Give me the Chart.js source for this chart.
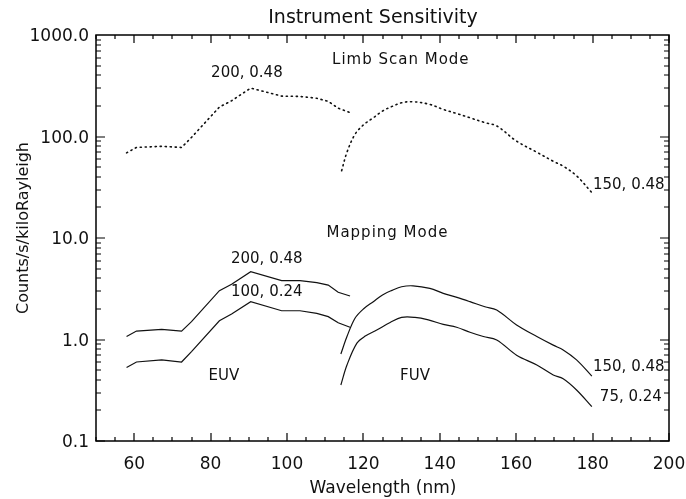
<!DOCTYPE html>
<html>
<head>
<meta charset="utf-8">
<script src="https://cdn.jsdelivr.net/npm/chart.js@4.4.0/dist/chart.umd.min.js"></script>
<style>
  html, body { margin: 0; padding: 0; background: #fff; }
  #wrap { width: 686px; height: 499px; }
</style>
</head>
<body>
<div id="wrap"><canvas id="chart" width="686" height="499"></canvas></div>
<script>
const FONT = "'DejaVu Sans', sans-serif";
const INK = "#111";

// axis ticks
const xTickVals = [60, 80, 100, 120, 140, 160, 180, 200];
const yTickVals = [0.1, 1, 10, 100, 1000];
const yTickLabels = ["0.1", "1.0", "10.0", "100.0", "1000.0"];

// Limb scan mode (dotted)
const limbEuvX = [58, 60.6, 67.2, 72.4, 75, 82.3, 85.5, 90.5, 98.6, 103.4, 107.8, 110.8, 113.4, 116.5];
const limbEuvY = [69, 78, 80, 78, 98, 195, 225, 300, 250, 248, 238, 222, 190, 172];
const limbFuvX = [114.3, 115.7, 117.8, 120, 122.6, 125, 127.5, 130, 133, 137.4, 140.9, 144.5, 147.9, 151.8, 154.9, 160.1, 165.4, 169.7, 172.3, 175.8, 179.8];
const limbFuvY = [46, 70, 105, 130, 153, 178, 198, 215, 220, 207, 185, 168, 153, 137, 127, 90, 70, 57, 51, 41, 28];

// Mapping mode (solid)
const mapEuvX = [58, 60.6, 67.2, 72.4, 75, 82.3, 85.5, 90.5, 98.6, 103.4, 107.8, 110.8, 113.4, 116.5];
const mapEuvHiY = [1.07, 1.21, 1.26, 1.21, 1.5, 3.03, 3.5, 4.66, 3.8, 3.8, 3.63, 3.44, 2.92, 2.68];
const mapEuvLoY = [0.53, 0.6, 0.63, 0.6, 0.76, 1.53, 1.78, 2.36, 1.92, 1.92, 1.81, 1.68, 1.46, 1.32];
const mapFuvHiX = [114.1, 115.7, 117.8, 120, 122.6, 125, 127.5, 130, 133, 137.4, 140.9, 144.5, 147.9, 151.8, 154.9, 160.1, 165.4, 169.7, 172.3, 175.8, 179.8];
const mapFuvHiY = [0.72, 1.07, 1.62, 2.0, 2.36, 2.75, 3.05, 3.31, 3.38, 3.19, 2.85, 2.6, 2.36, 2.1, 1.95, 1.39, 1.07, 0.88, 0.79, 0.63, 0.436];
const mapFuvLoX = [114.1, 115.7, 118.3, 120.5, 123.5, 127, 130, 133.5, 137, 140.9, 144.4, 147.9, 151.4, 154.9, 160.1, 165.4, 169.7, 172.3, 175.8, 179.8];
const mapFuvLoY = [0.356, 0.56, 0.92, 1.08, 1.24, 1.47, 1.65, 1.65, 1.56, 1.41, 1.32, 1.18, 1.07, 0.99, 0.7, 0.56, 0.447, 0.41, 0.318, 0.218];

// text annotations (data coordinates)
const noteText = ["Limb Scan Mode", "200, 0.48", "150, 0.48", "Mapping Mode", "200, 0.48", "100, 0.24", "EUV", "FUV", "150, 0.48", "75, 0.24"];
const noteX = [129.8, 89.5, 180.1, 126.3, 94.7, 94.7, 83.5, 133.5, 180.1, 181.9];
const noteY = [567, 422, 33.3, 11.1, 6.17, 2.96, 0.436, 0.436, 0.54, 0.273];
const noteAlign = ["center", "center", "left", "center", "center", "center", "center", "center", "left", "left"];

function pts(xs, ys) {
  return xs.map((x, i) => ({ x, y: ys[i] }));
}

function lineSet(xs, ys, dotted, smooth) {
  return {
    data: pts(xs, ys),
    borderColor: INK,
    borderWidth: dotted ? 1.6 : 1.2,
    borderDash: dotted ? [1.2, 3.8] : [],
    borderCapStyle: dotted ? "round" : "butt",
    pointRadius: 0,
    fill: false,
    tension: smooth ? 0.35 : 0,
  };
}

const frame = {
  id: "frame",
  afterDraw(chart) {
    const ctx = chart.ctx;
    const a = chart.chartArea;
    const xs = chart.scales.x, ys = chart.scales.y;
    const L = Math.round(a.left), R = Math.round(a.right);
    const T = Math.round(a.top), B = Math.round(a.bottom);
    ctx.save();
    ctx.setLineDash([]);
    ctx.globalAlpha = 1;
    ctx.strokeStyle = "#000";
    ctx.lineWidth = 1.5;
    ctx.lineCap = "square";
    ctx.strokeRect(L, T, R - L, B - T);
    ctx.lineWidth = 1.2;
    ctx.lineCap = "butt";
    ctx.beginPath();
    for (let v = 50; v <= 200; v += 5) {
      const px = Math.round(xs.getPixelForValue(v));
      const len = v % 20 === 0 ? 8 : 4;
      ctx.moveTo(px, B); ctx.lineTo(px, B - len);
      ctx.moveTo(px, T); ctx.lineTo(px, T + len);
    }
    for (const d of [0.1, 1, 10, 100]) {
      for (let m = 1; m <= 9; m++) {
        const py = Math.round(ys.getPixelForValue(d * m));
        const len = m === 1 ? 9 : 5;
        ctx.moveTo(L, py); ctx.lineTo(L + len, py);
        ctx.moveTo(R, py); ctx.lineTo(R - len, py);
      }
    }
    ctx.stroke();

    // annotations
    ctx.fillStyle = INK;
    ctx.textBaseline = "middle";
    ctx.font = "15px " + FONT;
    noteText.forEach((t, i) => {
      ctx.letterSpacing = /Mode/.test(t) ? "1px" : "0px";
      ctx.textAlign = noteAlign[i];
      ctx.fillText(t, xs.getPixelForValue(noteX[i]), ys.getPixelForValue(noteY[i]));
    });
    ctx.letterSpacing = "0px";

    // titles
    ctx.textAlign = "center";
    ctx.font = "19px " + FONT;
    ctx.fillText("Instrument Sensitivity", 373, 18);
    ctx.font = "17px " + FONT;
    ctx.fillText("Wavelength (nm)", 383, 489);
    ctx.font = "16px " + FONT;
    ctx.translate(24, 228);
    ctx.rotate(-Math.PI / 2);
    ctx.fillText("Counts/s/kiloRayleigh", 0, 0);
    ctx.restore();
  },
};

new Chart(document.getElementById("chart"), {
  type: "line",
  data: {
    datasets: [
      lineSet(limbEuvX, limbEuvY, true, false),
      lineSet(limbFuvX, limbFuvY, true, true),
      lineSet(mapEuvX, mapEuvHiY, false, false),
      lineSet(mapEuvX, mapEuvLoY, false, false),
      lineSet(mapFuvHiX, mapFuvHiY, false, true),
      lineSet(mapFuvLoX, mapFuvLoY, false, true),
    ],
  },
  options: {
    responsive: false,
    animation: false,
    layout: { padding: { left: 0, right: 17, top: 35, bottom: 0 } },
    plugins: { legend: { display: false }, tooltip: { enabled: false } },
    scales: {
      x: {
        type: "linear",
        min: 50,
        max: 200,
        grid: { display: false, drawTicks: false },
        border: { display: false },
        afterBuildTicks: (s) => { s.ticks = xTickVals.map((v) => ({ value: v })); },
        afterFit: (s) => {
          s.height = 58;
          s.paddingLeft = 0;
          s.paddingRight = 0;
        },
        ticks: {
          color: INK,
          padding: 13,
          maxRotation: 0,
          font: { family: FONT, size: 17 },
        },
      },
      y: {
        type: "logarithmic",
        min: 0.1,
        max: 1000,
        grid: { display: false, drawTicks: false },
        border: { display: false },
        afterBuildTicks: (s) => { s.ticks = yTickVals.map((v) => ({ value: v })); },
        afterFit: (s) => {
          s.width = 96;
          s.paddingTop = 0;
          s.paddingBottom = 0;
        },
        ticks: {
          color: INK,
          padding: 7,
          labelOffset: 2,
          font: { family: FONT, size: 17 },
          callback: (v, i) => yTickLabels[i],
        },
      },
    },
  },
  plugins: [frame],
});
</script>
</body>
</html>
